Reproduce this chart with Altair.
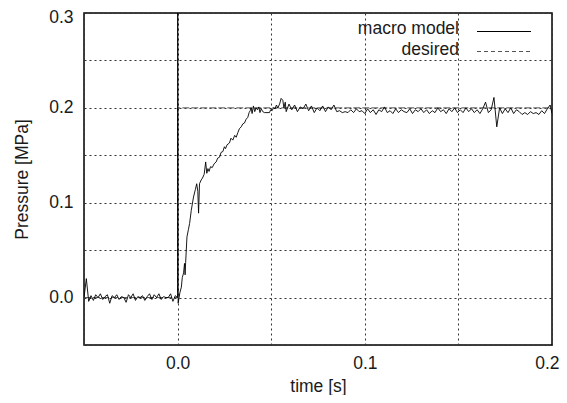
import altair as alt
import pandas as pd

# ---- data ----
pre_t = [-0.05, -0.04875, -0.0475, -0.04625, -0.045, -0.04375, -0.0425, -0.04125, -0.04, -0.03875,
         -0.0375, -0.03625, -0.035, -0.03375, -0.0325, -0.03125, -0.03, -0.02875, -0.0275, -0.02625,
         -0.025, -0.02375, -0.0225, -0.02125, -0.02, -0.01875, -0.0175, -0.01625, -0.015, -0.01375,
         -0.0125, -0.01125, -0.01, -0.00875, -0.0075, -0.00625, -0.005, -0.00375, -0.0025, -0.00125,
         0.0]
pre_p = [0.0, 0.02, -0.004, 0.002, -0.003, 0.003, 0.0, 0.004, -0.002, 0.001,
         0.003, -0.006, 0.002, 0.0, 0.003, -0.002, 0.001, 0.0, -0.005, 0.003,
         0.0, 0.004, -0.003, 0.001, 0.0, 0.002, -0.003, 0.001, 0.004, -0.002,
         0.003, 0.0, 0.004, -0.002, 0.001, 0.0, 0.0, 0.004, -0.004, 0.002,
         0.0]

rise_t = [0.0, 0.0001, 0.0003, 0.0012, 0.002, 0.0025, 0.0032, 0.0037, 0.004, 0.0043,
          0.005, 0.0058, 0.0064, 0.0073, 0.0085, 0.0095, 0.0102, 0.0108, 0.0112, 0.0117,
          0.0126, 0.0133, 0.0142, 0.015, 0.0156, 0.0162, 0.0168, 0.0176, 0.0185, 0.0195,
          0.0206, 0.0214, 0.0224, 0.0232, 0.0242, 0.025, 0.0256, 0.0264, 0.0277, 0.0285,
          0.0295, 0.0305, 0.0313, 0.0322, 0.033, 0.034, 0.0348, 0.0357, 0.0366, 0.0375,
          0.0382, 0.0388, 0.0393, 0.0398, 0.0405, 0.0412, 0.042, 0.0427, 0.0434, 0.044,
          0.0447, 0.0455, 0.0464, 0.0491, 0.0497, 0.0505, 0.0512, 0.052, 0.0528, 0.0535,
          0.0545, 0.0553, 0.0562, 0.0568, 0.0575, 0.058]
rise_p = [0.35, 0.35, -0.006, 0.005, 0.011, 0.021, 0.026, 0.036, 0.024, 0.037,
          0.064, 0.072, 0.078, 0.092, 0.106, 0.114, 0.12, 0.112, 0.089, 0.12,
          0.124, 0.126, 0.13, 0.143, 0.131, 0.136, 0.133, 0.138, 0.137, 0.141,
          0.143, 0.147, 0.148, 0.153, 0.154, 0.159, 0.157, 0.161, 0.163, 0.168,
          0.166, 0.171, 0.169, 0.174, 0.178, 0.18, 0.183, 0.184, 0.188, 0.19,
          0.195, 0.197, 0.2, 0.194, 0.202, 0.196, 0.2, 0.198, 0.201, 0.195,
          0.199, 0.196, 0.195, 0.195, 0.198, 0.197, 0.2, 0.199, 0.203, 0.2,
          0.204, 0.21, 0.208, 0.2, 0.206, 0.196]

steady_t = [0.0595, 0.061, 0.0625, 0.064, 0.0655, 0.067, 0.0685, 0.07, 0.0715, 0.073,
            0.0745, 0.076, 0.0775, 0.079, 0.0805, 0.082, 0.0835, 0.085, 0.0865, 0.088,
            0.0895, 0.091, 0.0925, 0.094, 0.0955, 0.097, 0.0985, 0.1, 0.1015, 0.103,
            0.1045, 0.106, 0.1075, 0.109, 0.1105, 0.112, 0.1135, 0.115, 0.1165, 0.118,
            0.1195, 0.121, 0.1225, 0.124, 0.1255, 0.127, 0.1285, 0.13, 0.1315, 0.133,
            0.1345, 0.136, 0.1375, 0.139, 0.1405, 0.142, 0.1435, 0.145, 0.1465, 0.148,
            0.1495, 0.151, 0.1525, 0.154, 0.1555, 0.157, 0.1585, 0.16, 0.1615, 0.163,
            0.1645, 0.166, 0.1675, 0.169, 0.1705, 0.172, 0.1735, 0.175, 0.1765, 0.178,
            0.1795, 0.181, 0.1825, 0.184, 0.1855, 0.187, 0.1885, 0.19, 0.1915, 0.193,
            0.1945, 0.196, 0.1975, 0.199, 0.2]
steady_p = [0.204, 0.198, 0.203, 0.196, 0.201, 0.199, 0.204, 0.197, 0.202, 0.195,
            0.2, 0.197, 0.202, 0.196, 0.201, 0.198, 0.203, 0.196, 0.197, 0.195,
            0.196, 0.195, 0.198, 0.195, 0.199, 0.196, 0.197, 0.194, 0.199, 0.195,
            0.198, 0.193, 0.198, 0.196, 0.201, 0.195, 0.197, 0.194, 0.199, 0.195,
            0.198, 0.196, 0.195, 0.199, 0.194, 0.198, 0.196, 0.199, 0.195, 0.198,
            0.194, 0.197, 0.195, 0.2, 0.196, 0.198, 0.194, 0.199, 0.196, 0.2,
            0.195, 0.198, 0.195, 0.2, 0.196, 0.199, 0.195, 0.198, 0.194, 0.199,
            0.206, 0.195, 0.198, 0.211, 0.18, 0.2, 0.194, 0.199, 0.195, 0.2,
            0.194, 0.198, 0.196, 0.193, 0.195, 0.193, 0.196, 0.194, 0.195, 0.193,
            0.197, 0.194, 0.199, 0.203, 0.194]

desired_t = [-0.05, 0.0, 0.0, 0.2]
desired_p = [0.0, 0.0, 0.2, 0.2]

x_ticks = [-0.05, 0.0, 0.05, 0.1, 0.15, 0.2]
y_ticks = [-0.05, 0.0, 0.05, 0.1, 0.15, 0.2, 0.25, 0.3]

macro = pd.DataFrame({"t": pre_t + rise_t + steady_t, "p": pre_p + rise_p + steady_p})
macro["order"] = range(len(macro))
desired = pd.DataFrame({"t": desired_t, "p": desired_p, "order": range(len(desired_t))})

FONT = "Liberation Sans"
FS = 17.5
TXT = "#1a1a1a"
label_expr = "abs(datum.value*10 - round(datum.value*10)) < 0.001 ? format(datum.value, '.1f') : ''"

xscale = alt.Scale(domain=[-0.05, 0.2], nice=False, zero=False)
yscale = alt.Scale(domain=[-0.05, 0.3], nice=False, zero=False)

xaxis = alt.Axis(values=x_ticks, labelExpr=label_expr, title="time [s]", grid=True,
                 gridDash=[2, 3], gridColor="#333", gridWidth=1, ticks=False, domain=False,
                 labelFont=FONT, labelFontSize=FS, labelColor=TXT, labelPadding=9,
                 titleFont=FONT, titleFontSize=FS, titleFontWeight="normal", titleColor=TXT,
                 titlePadding=6, labelFlush=True, labelFlushOffset=7)
yaxis = alt.Axis(values=y_ticks, labelExpr=label_expr, title="Pressure [MPa]", grid=True,
                 gridDash=[2, 3], gridColor="#333", gridWidth=1, ticks=False, domain=False,
                 labelFont=FONT, labelFontSize=FS, labelColor=TXT, labelPadding=11,
                 titleFont=FONT, titleFontSize=FS, titleFontWeight="normal", titleColor=TXT,
                 titlePadding=17, labelFlush=True, labelFlushOffset=5)

desired_line = alt.Chart(desired).mark_line(
    color="#555", strokeWidth=1, strokeDash=[7, 2], clip=True
).encode(
    x=alt.X("t:Q", scale=xscale, axis=xaxis),
    y=alt.Y("p:Q", scale=yscale, axis=yaxis),
    order="order:Q",
)

macro_line = alt.Chart(macro).mark_line(color="black", strokeWidth=0.9, clip=True).encode(
    x=alt.X("t:Q", scale=xscale),
    y=alt.Y("p:Q", scale=yscale),
    order="order:Q",
)

# legend (gnuplot style: label left, sample right)
leg_text1 = alt.Chart(pd.DataFrame({"s": ["macro model"]})).mark_text(
    align="right", baseline="middle", font=FONT, fontSize=FS, color=TXT
).encode(x=alt.value(375), y=alt.value(16), text="s:N")
leg_text2 = alt.Chart(pd.DataFrame({"s": ["desired"]})).mark_text(
    align="right", baseline="middle", font=FONT, fontSize=FS, color=TXT
).encode(x=alt.value(375), y=alt.value(37), text="s:N")
leg_rule1 = alt.Chart(pd.DataFrame({"a": [0]})).mark_rule(color="black", strokeWidth=1).encode(
    x=alt.value(393), x2=alt.value(447), y=alt.value(18.5))
leg_rule2 = alt.Chart(pd.DataFrame({"a": [0]})).mark_rule(
    color="#555", strokeWidth=1, strokeDash=[4, 3]).encode(
    x=alt.value(393), x2=alt.value(447), y=alt.value(38.5))

chart = alt.layer(desired_line, macro_line, leg_text1, leg_text2, leg_rule1, leg_rule2).properties(
    width=468, height=332,
    autosize=alt.AutoSizeParams(type="none"),
    padding={"left": 76, "top": 5, "right": 7, "bottom": 50},
    background="white",
).configure_view(stroke="black", strokeWidth=1.5)

chart.save("out.html", embed_options={"renderer": "svg", "actions": False})
